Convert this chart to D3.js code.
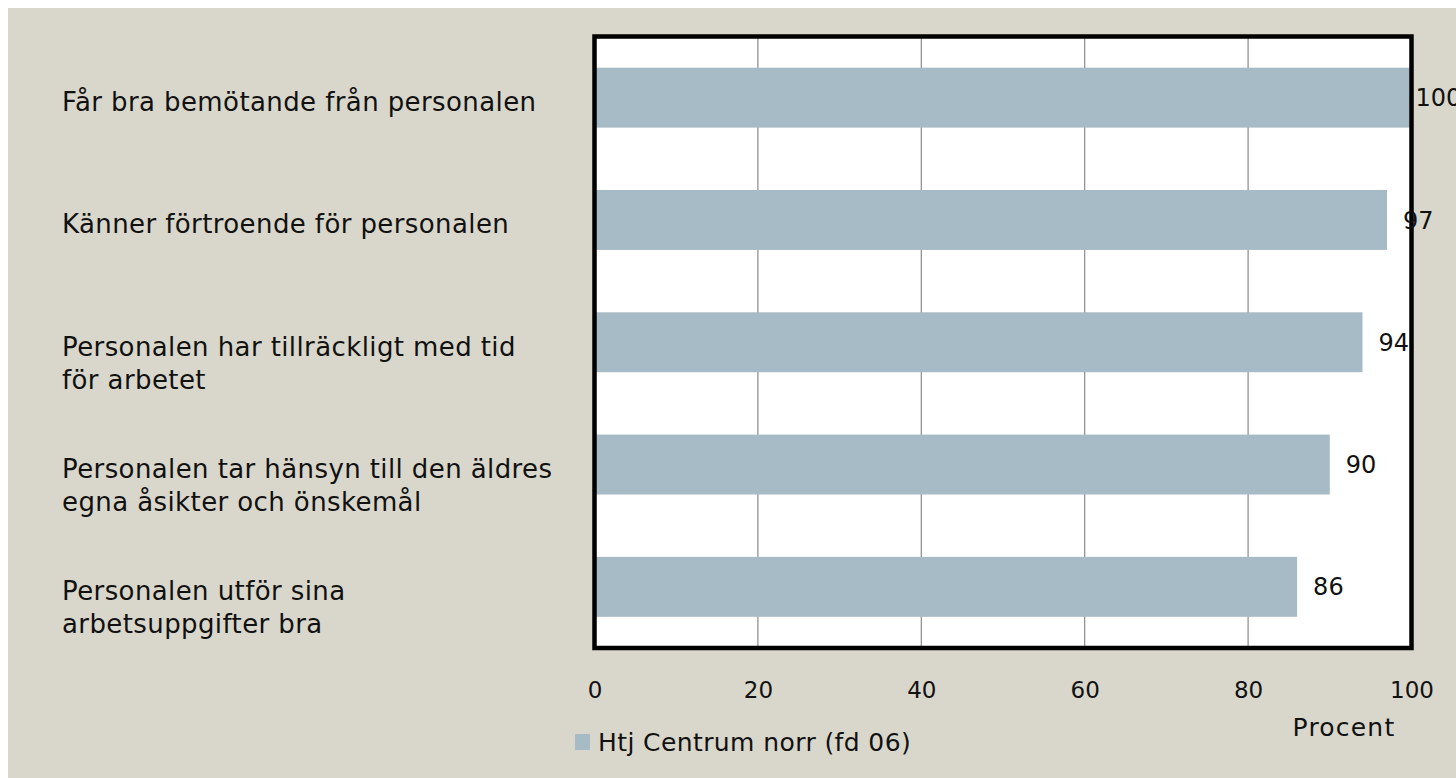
<!DOCTYPE html>
<html>
<head>
<meta charset="utf-8">
<script src="https://cdn.jsdelivr.net/npm/d3@7"></script>
<style>
  html, body { margin: 0; padding: 0; background: #ffffff; }
  svg { display: block; }
  text { font-family: "DejaVu Sans", sans-serif; fill: #111; }
</style>
</head>
<body>
<div id="chart"></div>
<script>
// Survey results, share positive answers (percent)
var categories = [
  ['Får bra bemötande från personalen'],
  ['Känner förtroende för personalen'],
  ['Personalen har tillräckligt med tid', 'för arbetet'],
  ['Personalen tar hänsyn till den äldres', 'egna åsikter och önskemål'],
  ['Personalen utför sina', 'arbetsuppgifter bra']
];
var values = [100, 97, 94, 90, 86];
var xTicks = [0, 20, 40, 60, 80, 100];
var seriesName = 'Htj Centrum norr (fd 06)';
var axisTitle = 'Procent';

var W = 1456, H = 778;
var plot = { left: 594.5, right: 1411.5, top: 36.5, bottom: 648 };

var svg = d3.select('#chart').append('svg')
  .attr('width', W)
  .attr('height', H);

// beige panel with thin white margin top/left
svg.append('rect')
  .attr('x', 8).attr('y', 8)
  .attr('width', W - 8).attr('height', H - 8)
  .attr('fill', '#d9d7cb');

var x = d3.scaleLinear().domain([0, 100]).range([plot.left, plot.right]);
var y = d3.scaleBand().domain(d3.range(values.length))
  .range([plot.top, plot.bottom]).paddingInner(0.51).paddingOuter(0.255);

svg.append('rect')
  .attr('x', plot.left).attr('y', plot.top)
  .attr('width', plot.right - plot.left).attr('height', plot.bottom - plot.top)
  .attr('fill', '#ffffff');

// grid lines
svg.append('g').selectAll('line')
  .data(xTicks.slice(1, -1))
  .enter().append('line')
  .attr('x1', function(d) { return x(d); })
  .attr('x2', function(d) { return x(d); })
  .attr('y1', plot.top).attr('y2', plot.bottom)
  .attr('stroke', '#8a8a8a').attr('stroke-width', 1.2);

// bars
svg.append('g').selectAll('rect')
  .data(values)
  .enter().append('rect')
  .attr('x', x(0))
  .attr('y', function(d, i) { return y(i); })
  .attr('width', function(d) { return x(d) - x(0); })
  .attr('height', y.bandwidth())
  .attr('fill', '#a7bbc6');

// frame
svg.append('rect')
  .attr('x', plot.left).attr('y', plot.top)
  .attr('width', plot.right - plot.left).attr('height', plot.bottom - plot.top)
  .attr('fill', 'none').attr('stroke', '#000').attr('stroke-width', 4.5);

// value labels
svg.append('g').selectAll('text')
  .data(values)
  .enter().append('text')
  .attr('x', function(d) { return Math.min(x(d) + 16, x(100) + 4); })
  .attr('y', function(d, i) { return y(i) + y.bandwidth() / 2; })
  .attr('dy', '0.36em')
  .style('font-size', '24px')
  .text(function(d) { return d; });

// category labels
var cat = svg.append('g').selectAll('text')
  .data(categories)
  .enter().append('text')
  .attr('x', 62)
  .attr('y', function(d, i) { return y(i) + y.bandwidth() / 2 + 4; })
  .style('font-size', '26px')
  .style('letter-spacing', '0.4px');

cat.selectAll('tspan')
  .data(function(d) { return d; })
  .enter().append('tspan')
  .attr('x', 62)
  .attr('dy', function(d, i) { return i === 0 ? '0.36em' : '33px'; })
  .text(function(d) { return d; });

// x axis tick labels
var xAxis = d3.axisBottom(x).tickValues(xTicks).tickSize(0).tickPadding(0);
var ax = svg.append('g')
  .attr('transform', 'translate(0,' + 690 + ')')
  .call(xAxis);
ax.select('.domain').remove();
ax.selectAll('text')
  .attr('y', 0).attr('dy', '0.36em')
  .style('font-size', '23px')
  .style('font-family', '"DejaVu Sans", sans-serif')
  .attr('fill', '#111');

svg.append('text')
  .attr('x', 1344).attr('y', 727)
  .attr('dy', '0.36em')
  .attr('text-anchor', 'middle')
  .style('font-size', '25px')
  .style('letter-spacing', '1.2px')
  .text(axisTitle);

// legend
svg.append('rect')
  .attr('x', 575).attr('y', 734)
  .attr('width', 15).attr('height', 16)
  .attr('fill', '#a7bbc6');
svg.append('text')
  .attr('x', 598).attr('y', 742)
  .attr('dy', '0.36em')
  .style('font-size', '25px')
  .style('letter-spacing', '0.4px')
  .text(seriesName);
</script>
</body>
</html>
